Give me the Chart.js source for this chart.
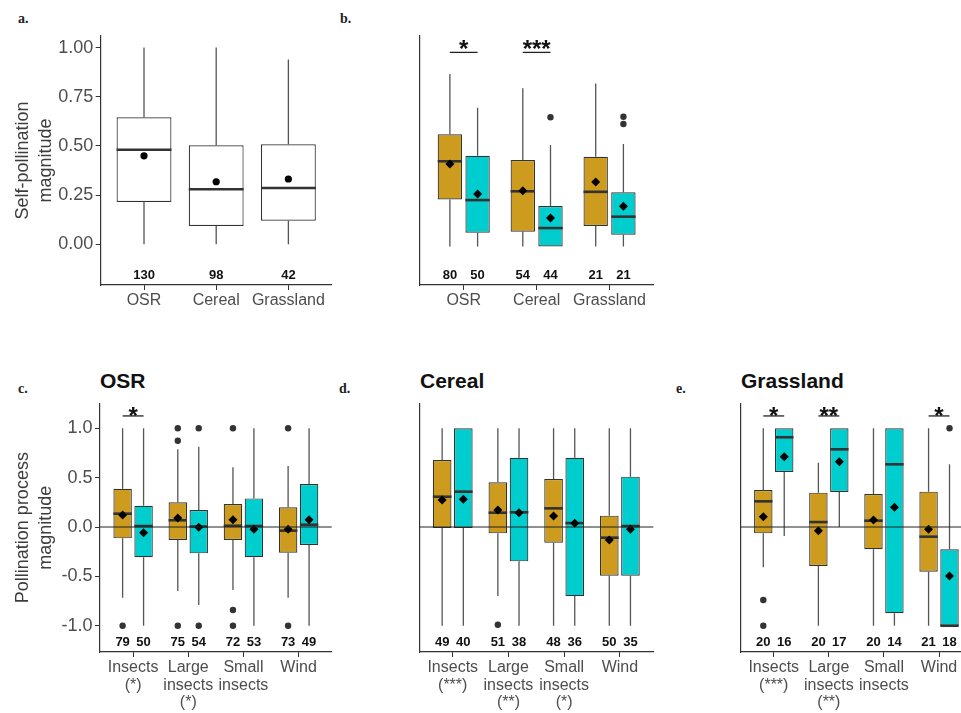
<!DOCTYPE html>
<html><head><meta charset="utf-8">
<script src="https://cdn.jsdelivr.net/npm/chart.js@4"></script>
<style>
html,body{margin:0;padding:0;background:#fff;width:961px;height:713px;overflow:hidden;position:relative;}
.pan{position:absolute;}
.lab{position:absolute;font:bold 14px 'Liberation Serif',serif;color:#222;line-height:14px;white-space:nowrap;}
.ttl{position:absolute;font:bold 21px 'Liberation Sans',Arial,sans-serif;color:#111;line-height:22px;white-space:nowrap;}
</style></head><body>
<div class="lab" style="left:18px;top:12px;">a.</div>
<div class="lab" style="left:340px;top:12px;">b.</div>
<div class="lab" style="left:18px;top:382px;">c.</div>
<div class="lab" style="left:339px;top:382px;">d.</div>
<div class="lab" style="left:676px;top:382px;">e.</div>
<div class="ttl" style="left:100px;top:370px;">OSR</div>
<div class="ttl" style="left:420px;top:370px;">Cereal</div>
<div class="ttl" style="left:741px;top:370px;">Grassland</div>
<script>
// ---------- DATA ----------
const ORANGE = '#CD9B1D', CYAN = '#00CDCD';

// Panel a
const catsA = ['OSR', 'Cereal', 'Grassland'];
const aLo   = [0, 0, 0];
const aQ1   = [0.215, 0.093, 0.12];
const aMed  = [0.481, 0.28, 0.286];
const aQ3   = [0.646, 0.503, 0.508];
const aHi   = [1.0, 1.0, 0.94];
const aMean = [0.45, 0.318, 0.332];
const aN    = [130, 98, 42];
const aTicks = [0, 0.25, 0.5, 0.75, 1.0];

// Panel b
const catsB = ['OSR', 'Cereal', 'Grassland'];
const bOLo = [0, 0, 0], bOQ1 = [0.273, 0.086, 0.119], bOMed = [0.494, 0.32, 0.317], bOQ3 = [0.65, 0.501, 0.52], bOHi = [1.0, 0.917, 0.945];
const bOMean = [0.478, 0.323, 0.374], bOOut = [[], [], []], bON = [80, 54, 21];
const bCLo = [0, 0, 0], bCQ1 = [0.08, 0, 0.068], bCMed = [0.269, 0.107, 0.173], bCQ3 = [0.526, 0.235, 0.314], bCHi = [0.804, 0.588, 0.594];
const bCMean = [0.304, 0.165, 0.233], bCOut = [[], [0.749], [0.752, 0.71]], bCN = [50, 44, 21];
const bSig = ['*', '***', ''];

// Panel c (OSR)
const catsC = [['Insects', '(*)'], ['Large', 'insects', '(*)'], ['Small', 'insects'], ['Wind']];
const cOLo = [-0.716, -0.648, -0.638, -0.716], cOQ1 = [-0.115, -0.132, -0.132, -0.26], cOMed = [0.135, 0.068, 0.013, -0.037];
const cOQ3 = [0.388, 0.25, 0.233, 0.2], cOHi = [1.0, 0.787, 0.605, 0.618], cOMean = [0.122, 0.091, 0.074, -0.023];
const cOOut = [[-1], [1, 0.874, -1], [1, -0.841, -1], [1, -1]], cON = [79, 75, 72, 73];
const cCLo = [-1, -0.79, -1, -1], cCQ1 = [-0.307, -0.267, -0.307, -0.182], cCMed = [0.01, 0.005, 0.01, 0.023];
const cCQ3 = [0.216, 0.172, 0.29, 0.436], cCHi = [1, 0.814, 1, 1], cCMean = [-0.058, -0.003, -0.023, 0.074];
const cCOut = [[], [1, -1], [], []], cCN = [50, 54, 53, 49];
const cSig = ['*', '', '', ''];

// Panel d (Cereal)
const catsD = [['Insects', '(***)'], ['Large', 'insects', '(**)'], ['Small', 'insects', '(*)'], ['Wind']];
const dOLo = [-1, -0.7, -1, -1], dOQ1 = [-0.01, -0.064, -0.159, -0.493], dOMed = [0.307, 0.145, 0.189, -0.108];
const dOQ3 = [0.679, 0.453, 0.486, 0.115], dOHi = [1, 1, 1, 1], dOMean = [0.274, 0.172, 0.111, -0.132];
const dOOut = [[], [-0.99], [], []], dON = [49, 51, 48, 50];
const dCLo = [-1, -1, -1, -1], dCQ1 = [-0.01, -0.348, -0.7, -0.493], dCMed = [0.358, 0.149, 0.04, 0.01];
const dCQ3 = [1, 0.702, 0.702, 0.51], dCHi = [1, 1, 1, 1], dCMean = [0.28, 0.145, 0.037, -0.023];
const dCOut = [[], [], [], []], dCN = [40, 38, 36, 35];
const dSig = ['', '', '', ''];

// Panel e (Grassland)
const catsE = [['Insects', '(***)'], ['Large', 'insects', '(**)'], ['Small', 'insects'], ['Wind']];
const eOLo = [-0.408, -1, -1, -1], eOQ1 = [-0.064, -0.395, -0.226, -0.453], eOMed = [0.26, 0.05, 0.064, -0.098];
const eOQ3 = [0.375, 0.348, 0.334, 0.358], eOHi = [1, 0.651, 1, 1], eOMean = [0.104, -0.037, 0.071, -0.023];
const eOOut = [[-0.74, -1], [], [], []], eON = [20, 20, 20, 21];
const eCLo = [-0.091, 0, -1, -1], eCQ1 = [0.557, 0.355, -0.874, -1], eCMed = [0.909, 0.787, 0.635, -1];
const eCQ3 = [1, 1, 1, -0.226], eCHi = [1, 1, 1, 0.635], eCMean = [0.712, 0.662, 0.2, -0.496];
const eCOut = [[], [], [], [1]], eCN = [16, 17, 14, 18];
const eSig = ['*', '**', '', '*'];

const cdeTicks = [-1, -0.5, 0, 0.5, 1];

// ---------- RENDER ----------
Chart.defaults.font.family = "'Liberation Sans', Arial, sans-serif";
const pos = (i, off) => i + 1 + off;

function makePanel(P) {
  const B = P.box, A = P.area;
  const cont = document.createElement('div');
  cont.className = 'pan';
  cont.style.cssText = `left:${B.left}px;top:${B.top}px;width:${B.vw || B.w}px;height:${B.h}px;overflow:hidden;`;
  const cv = document.createElement('canvas');
  cv.width = B.w; cv.height = B.h;
  cv.style.width = B.w + 'px'; cv.style.height = B.h + 'px';
  cont.appendChild(cv); document.body.appendChild(cont);

  const datasets = [], barGroup = {};
  P.groups.forEach(g => {
    datasets.push({type: 'scatter', data: g.mean.map((m, i) => ({x: pos(i, g.off), y: m})),
      pointStyle: P.meanStyle, pointRadius: P.meanR, pointBackgroundColor: '#000', pointBorderColor: '#000', pointBorderWidth: 0});
    const outs = [];
    g.out.forEach((arr, i) => arr.forEach(v => outs.push({x: pos(i, g.off), y: v})));
    datasets.push({type: 'scatter', data: outs, pointStyle: 'circle', pointRadius: 3.2,
      pointBackgroundColor: '#333', pointBorderColor: '#333', pointBorderWidth: 0});
  });
  P.groups.forEach(g => {
    barGroup[datasets.length] = g;
    datasets.push({type: 'bar', data: g.q1.map((q, i) => ({x: pos(i, g.off), y: [q, g.q3[i]]})),
      backgroundColor: g.color, borderColor: '#333', borderWidth: 1.2, borderSkipped: false,
      grouped: false, categoryPercentage: 1, barPercentage: P.barPct});
  });

  const plugin = {
    id: 'box_' + P.id,
    beforeDatasetsDraw(chart) {
      const {ctx} = chart, xs = chart.scales.x, ys = chart.scales.y;
      ctx.save(); ctx.strokeStyle = '#555'; ctx.lineWidth = 1.3;
      P.groups.forEach(g => g.q1.forEach((q, i) => {
        const x = xs.getPixelForValue(pos(i, g.off));
        ctx.beginPath();
        ctx.moveTo(x, ys.getPixelForValue(g.lo[i])); ctx.lineTo(x, ys.getPixelForValue(q));
        ctx.moveTo(x, ys.getPixelForValue(g.q3[i])); ctx.lineTo(x, ys.getPixelForValue(g.hi[i]));
        ctx.stroke();
      }));
      ctx.restore();
    },
    afterDatasetDraw(chart, args) {
      const g = barGroup[args.index]; if (!g) return;
      const {ctx} = chart, ys = chart.scales.y;
      ctx.save(); ctx.strokeStyle = '#333'; ctx.lineWidth = 2.6;
      args.meta.data.forEach((el, i) => {
        const {x, width} = el.getProps(['x', 'width'], true);
        const y = ys.getPixelForValue(g.med[i]);
        ctx.beginPath(); ctx.moveTo(x - width / 2, y); ctx.lineTo(x + width / 2, y); ctx.stroke();
      });
      ctx.restore();
    },
    afterDatasetsDraw(chart) {
      if (!P.zeroLine) return;
      const {ctx, chartArea} = chart, ys = chart.scales.y;
      const y = ys.getPixelForValue(0);
      ctx.save(); ctx.strokeStyle = '#222'; ctx.lineWidth = 1.2;
      ctx.beginPath(); ctx.moveTo(chartArea.left, y); ctx.lineTo(chartArea.right, y); ctx.stroke();
      ctx.restore();
    },
    afterDraw(chart) {
      const {ctx} = chart, xs = chart.scales.x, ys = chart.scales.y;
      ctx.save();
      ctx.fillStyle = '#111'; ctx.font = "bold 13px 'Liberation Sans', Arial, sans-serif";
      ctx.textAlign = 'center'; ctx.textBaseline = 'middle';
      const ny = ys.getPixelForValue(P.nY);
      P.groups.forEach(g => g.n.forEach((n, i) => ctx.fillText(String(n), xs.getPixelForValue(pos(i, g.off)), ny)));
      if (P.sig) {
        const F = 24;
        P.sig.forEach((s, i) => {
          if (!s) return;
          const x1 = xs.getPixelForValue(pos(i, P.groups[0].off));
          const x2 = xs.getPixelForValue(pos(i, P.groups[1].off));
          const y = ys.getPixelForValue(P.sigY);
          ctx.strokeStyle = '#222'; ctx.lineWidth = 1.3;
          ctx.beginPath(); ctx.moveTo(x1, y); ctx.lineTo(x2, y); ctx.stroke();
          ctx.font = `bold ${F}px 'Liberation Sans', Arial, sans-serif`;
          ctx.textBaseline = 'alphabetic';
          ctx.fillText(s, (x1 + x2) / 2, ys.getPixelForValue(P.starY) + 0.57 * F);
        });
      }
      ctx.restore();
    }
  };

  return new Chart(cv, {
    type: 'bar',
    data: {datasets},
    plugins: [plugin],
    options: {
      responsive: false, animation: false, events: [],
      devicePixelRatio: 1,
      layout: {autoPadding: false, padding: {left: 0, bottom: 0, top: A.top - B.top, right: B.w - (A.right - B.left)}},
      plugins: {legend: {display: false}, tooltip: {enabled: false}},
      scales: {
        x: {
          type: 'linear', min: 0.4, max: P.xmax, offset: false,
          afterBuildTicks: s => { s.ticks = P.labels.map((l, i) => ({value: i + 1})); },
          afterFit: s => { s.height = B.h - (A.bottom - B.top); s.paddingLeft = 0; s.paddingRight = 0; },
          ticks: {autoSkip: false, maxRotation: 0, minRotation: 0, padding: 2, color: '#4d4d4d',
            font: {size: 16, lineHeight: 1.1},
            callback: v => P.labels[Math.round(v) - 1]},
          grid: {display: true, offset: false, drawOnChartArea: false, drawTicks: true, tickLength: 5, color: '#333', lineWidth: 1},
          border: {display: true, color: '#333', width: 1.2}
        },
        y: {
          type: 'linear', min: P.ymin, max: P.ymax,
          afterBuildTicks: s => { if (P.yTicks) s.ticks = P.yTicks.map(v => ({value: v})); },
          afterFit: s => { s.width = A.left - B.left; s.paddingTop = 0; s.paddingBottom = 0; },
          ticks: {display: !!P.yTicks, color: '#4d4d4d', padding: 2.5, font: {size: 18},
            callback: v => v.toFixed(P.yDec)},
          grid: {display: !!P.yTicks, drawOnChartArea: false, drawTicks: true, tickLength: 5, color: '#333', lineWidth: 1},
          border: {display: true, color: '#333', width: 1.2},
          title: {display: !!P.yTitle, text: P.yTitle, color: '#3d3d3d', font: {size: 18, lineHeight: 1.25}, padding: {top: 12, bottom: 0}}
        }
      }
    }
  });
}

makePanel({
  id: 'a', box: {left: 0, top: 0, w: 345, h: 340}, area: {left: 100.7, top: 36, right: 331.7, bottom: 285},
  xmax: 3.6, ymin: -0.207, ymax: 1.059, yTicks: aTicks, yDec: 2, yTitle: ['Self-pollination', 'magnitude'],
  labels: catsA, barPct: 0.76, meanStyle: 'circle', meanR: 3.6, nY: -0.157,
  groups: [{off: 0, color: '#ffffff', lo: aLo, q1: aQ1, med: aMed, q3: aQ3, hi: aHi, mean: aMean, out: [[], [], []], n: aN}]
});
makePanel({
  id: 'b', box: {left: 345, top: 0, w: 320, h: 340}, area: {left: 420, top: 36, right: 653.3, bottom: 285},
  xmax: 3.6, ymin: -0.223, ymax: 1.22, yTicks: null, labels: catsB, barPct: 0.88, meanStyle: 'rectRot', meanR: 4.5,
  nY: -0.168, sig: bSig, sigY: 1.125, starY: 1.177,
  groups: [
    {off: -0.19, color: ORANGE, lo: bOLo, q1: bOQ1, med: bOMed, q3: bOQ3, hi: bOHi, mean: bOMean, out: bOOut, n: bON},
    {off: 0.19, color: CYAN, lo: bCLo, q1: bCQ1, med: bCMed, q3: bCQ3, hi: bCHi, mean: bCMean, out: bCOut, n: bCN}]
});
makePanel({
  id: 'c', box: {left: 0, top: 395, w: 335, h: 318}, area: {left: 100, top: 403.3, right: 331.7, bottom: 652},
  xmax: 4.6, ymin: -1.266, ymax: 1.253, yTicks: cdeTicks, yDec: 1, yTitle: ['Pollination process', 'magnitude'],
  labels: catsC, barPct: 0.88, meanStyle: 'rectRot', meanR: 4.5, nY: -1.172, sig: cSig, sigY: 1.125, starY: 1.185, zeroLine: true,
  groups: [
    {off: -0.19, color: ORANGE, lo: cOLo, q1: cOQ1, med: cOMed, q3: cOQ3, hi: cOHi, mean: cOMean, out: cOOut, n: cON},
    {off: 0.19, color: CYAN, lo: cCLo, q1: cCQ1, med: cCMed, q3: cCQ3, hi: cCHi, mean: cCMean, out: cCOut, n: cCN}]
});
makePanel({
  id: 'd', box: {left: 340, top: 395, w: 320, h: 318}, area: {left: 419.3, top: 403.3, right: 653.3, bottom: 652},
  xmax: 4.6, ymin: -1.266, ymax: 1.253, yTicks: null, labels: catsD, barPct: 0.88, meanStyle: 'rectRot', meanR: 4.5,
  nY: -1.172, sig: dSig, sigY: 1.125, starY: 1.185, zeroLine: true,
  groups: [
    {off: -0.19, color: ORANGE, lo: dOLo, q1: dOQ1, med: dOMed, q3: dOQ3, hi: dOHi, mean: dOMean, out: dOOut, n: dON},
    {off: 0.19, color: CYAN, lo: dCLo, q1: dCQ1, med: dCMed, q3: dCQ3, hi: dCHi, mean: dCMean, out: dCOut, n: dCN}]
});
makePanel({
  id: 'e', box: {left: 660, top: 395, w: 320, vw: 301, h: 318}, area: {left: 740.7, top: 403.3, right: 972.1, bottom: 652},
  xmax: 4.6, ymin: -1.266, ymax: 1.253, yTicks: null, labels: catsE, barPct: 0.88, meanStyle: 'rectRot', meanR: 4.5,
  nY: -1.172, sig: eSig, sigY: 1.125, starY: 1.185, zeroLine: true,
  groups: [
    {off: -0.19, color: ORANGE, lo: eOLo, q1: eOQ1, med: eOMed, q3: eOQ3, hi: eOHi, mean: eOMean, out: eOOut, n: eON},
    {off: 0.19, color: CYAN, lo: eCLo, q1: eCQ1, med: eCMed, q3: eCQ3, hi: eCHi, mean: eCMean, out: eCOut, n: eCN}]
});
</script>
</body></html>
